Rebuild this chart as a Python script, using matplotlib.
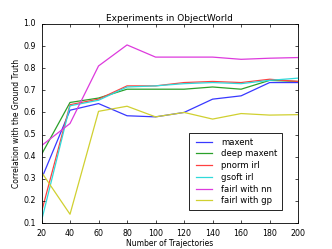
import matplotlib
matplotlib.use("Agg")
import matplotlib.pyplot as plt

plt.style.use('classic')

x = [20, 40, 60, 80, 100, 120, 140, 160, 180, 200]
maxent = [0.30, 0.61, 0.64, 0.585, 0.58, 0.60, 0.66, 0.675, 0.735, 0.735]
deep_maxent = [0.41, 0.645, 0.665, 0.705, 0.705, 0.705, 0.715, 0.705, 0.745, 0.74]
pnorm_irl = [0.15, 0.635, 0.66, 0.72, 0.72, 0.735, 0.74, 0.735, 0.75, 0.74]
gsoft_irl = [0.11, 0.63, 0.655, 0.715, 0.72, 0.73, 0.735, 0.73, 0.745, 0.755]
fairl_nn = [0.45, 0.55, 0.81, 0.905, 0.85, 0.85, 0.85, 0.84, 0.845, 0.848]
fairl_gp = [0.33, 0.14, 0.605, 0.628, 0.58, 0.60, 0.57, 0.595, 0.588, 0.59]

series = [
    ("maxent", maxent, '#3838ff'),
    ("deep maxent", deep_maxent, '#2aa02a'),
    ("pnorm irl", pnorm_irl, '#ff4040'),
    ("gsoft irl", gsoft_irl, '#30dada'),
    ("fairl with nn", fairl_nn, '#dd3add'),
    ("fairl with gp", fairl_gp, '#d0d030'),
]

fig = plt.figure(figsize=(3.32, 2.49), dpi=100, facecolor='white')
ax = fig.add_axes([0.125, 0.104, 0.773, 0.8])
for name, vals, c in series:
    ax.plot(x, vals, color=c, label=name, linewidth=0.9)

ax.set_xlim(20, 200)
ax.set_ylim(0.1, 1.0)
ax.set_xticks(range(20, 201, 20))
ax.set_yticks([0.1, 0.2, 0.3, 0.4, 0.5, 0.6, 0.7, 0.8, 0.9, 1.0])
ax.tick_params(labelsize=5.7, length=2, width=0.5)
for s in ax.spines.values():
    s.set_linewidth(0.6)
ax.set_title("Experiments in ObjectWorld", fontsize=6.5, pad=2)
ax.set_xlabel("Number of Trajectories", fontsize=5.5, labelpad=1)
ax.set_ylabel("Correlation with the Ground Truth", fontsize=5.5, labelpad=2)
leg = ax.legend(loc='lower right', fontsize=6.1, bbox_to_anchor=(0.955, 0.045),
                handlelength=2.5, labelspacing=0.32, borderpad=0.55, fancybox=False)
leg.get_frame().set_linewidth(0.6)
for l in leg.get_lines():
    l.set_linewidth(0.9)

fig.savefig("out.png", dpi=100, facecolor='white')
